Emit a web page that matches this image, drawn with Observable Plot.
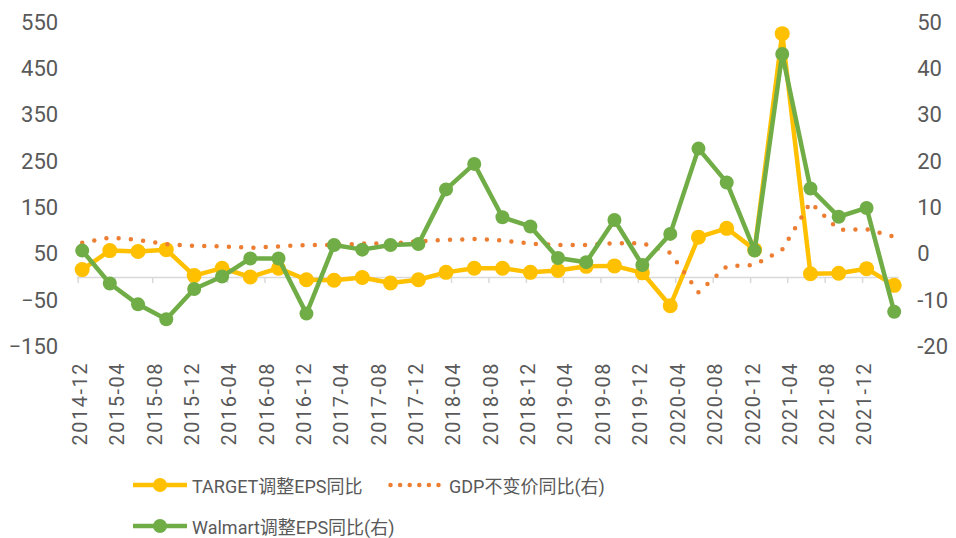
<!DOCTYPE html>
<html><head><meta charset="utf-8">
<script src="https://cdn.jsdelivr.net/npm/d3@7"></script>
<script src="https://cdn.jsdelivr.net/npm/@observablehq/plot@0.6"></script>
<style>
body{margin:0;background:#fff;font-family:Roboto,"Noto Sans CJK SC",sans-serif;}
#wrap{position:relative;width:956px;height:538px;overflow:hidden;}
.leg{position:absolute;display:flex;align-items:center;height:24px;font-size:18px;color:#595959;white-space:nowrap;font-family:Roboto,"Noto Sans CJK SC",sans-serif;}
.leg svg{margin-right:5px;}
#chart svg text[transform*="rotate(-90)"]{letter-spacing:1.5px;}
</style></head><body>
<div id="wrap"><div id="chart"></div>
<div class="leg" style="left:133px;top:473px"><svg width="54" height="24"><line x1="0" y1="12" x2="54" y2="12" stroke="#FFC000" stroke-width="4.5"/><circle cx="27" cy="12" r="7" fill="#FFC000"/></svg><span>TARGET调整EPS同比</span></div>
<div class="leg" style="left:388px;top:473px"><svg width="56" height="24"><line x1="2.5" y1="12" x2="52.5" y2="12" stroke="#ED7D31" stroke-width="4.5" stroke-linecap="round" stroke-dasharray="0 9.6"/></svg><span>GDP不变价同比(右)</span></div>
<div class="leg" style="left:133px;top:514px"><svg width="54" height="24"><line x1="0" y1="12" x2="54" y2="12" stroke="#70AD47" stroke-width="4.5"/><circle cx="27" cy="12" r="7" fill="#70AD47"/></svg><span>Walmart调整EPS同比(右)</span></div>
</div>
<script>
const quarters = ["2014-12","2015-03","2015-06","2015-09","2015-12","2016-03","2016-06","2016-09","2016-12","2017-03","2017-06","2017-09","2017-12","2018-03","2018-06","2018-09","2018-12","2019-03","2019-06","2019-09","2019-12","2020-03","2020-06","2020-09","2020-12","2021-03","2021-06","2021-09","2021-12","2022-03"];
const target = [17,58,56,60,4,20,1,20,-5,-6,0,-12,-5,11,20,20,11,15,24,25,10,-61,87,106,60,526,8,9,19,-17];
const walmart = [0.8,-6.3,-10.8,-14,-7.5,-4.8,-0.9,-0.9,-12.8,2.0,1.0,2.0,2.2,14.0,19.5,8.0,6.0,-0.8,-1.7,7.4,-2.3,4.4,22.8,15.5,0.8,43.2,14.2,8.1,10.0,-12.4];
const gdp = [2.5,3.6,3.1,2.2,1.8,1.7,1.4,1.7,2.0,2.0,2.3,2.3,2.8,3.1,3.3,3.0,2.3,2.0,2.0,2.4,2.4,0.3,-8.2,-2.6,-2.3,1.0,11.2,5.3,5.4,3.8];
const tickLabels = ["2014-12","2015-04","2015-08","2015-12","2016-04","2016-08","2016-12","2017-04","2017-08","2017-12","2018-04","2018-08","2018-12","2019-04","2019-08","2019-12","2020-04","2020-08","2020-12","2021-04","2021-08","2021-12"];
const leftTicks = [-150,-50,50,150,250,350,450,550];

const parse = s => { const [y,m] = s.split("-").map(Number); return new Date(Date.UTC(y, m-1, 1)); };
// right axis value r maps onto left axis value r*10+50
const toLeft = r => r*10 + 50;
const rows = quarters.map((q,i) => ({date: parse(q), target: target[i], walmart: toLeft(walmart[i]), gdp: toLeft(gdp[i])}));
const ticks = tickLabels.map(s => ({date: parse(s), label: s}));

const H = 460;
const chart = Plot.plot({
  width: 956, height: H,
  marginLeft: 81.7, marginRight: 62.3, marginTop: 22, marginBottom: H - 346.5,
  style: {fontFamily: "Roboto, 'Noto Sans CJK SC', sans-serif", fontSize: "22px", color: "#595959", background: "#fff", overflow: "visible"},
  x: {type: "utc", domain: [parse("2014-12"), parse("2022-03")], axis: null},
  y: {domain: [-150, 550], axis: null},
  marks: [
    Plot.ruleY([0], {stroke: "#D9D9D9", strokeWidth: 1.5, insetLeft: -5, insetRight: -5}),
    Plot.ruleX(ticks, {x: "date", y1: 0, y2: -13, stroke: "#D9D9D9", strokeWidth: 1.5, dx: -4}),
    Plot.axisY({anchor: "left", ticks: leftTicks, tickSize: 0, tickPadding: 24, fontSize: 22}),
    Plot.axisY({anchor: "right", ticks: leftTicks, tickFormat: d => String((d-50)/10), tickSize: 0, tickPadding: 23, fontSize: 22}),
    Plot.text(ticks, {x: "date", text: "label", frameAnchor: "bottom", dy: 15, dx: -1.5, rotate: -90, textAnchor: "end", lineAnchor: "middle", fontSize: 20, fill: "#595959"}),
    Plot.line(rows, {x: "date", y: "target", stroke: "#FFC000", strokeWidth: 4.5, strokeLinejoin: "round"}),
    Plot.dot(rows, {x: "date", y: "target", r: 7.5, fill: "#FFC000"}),
    Plot.line(rows, {x: "date", y: "gdp", stroke: "#ED7D31", strokeWidth: 4.5, strokeLinecap: "round", strokeDasharray: "0 12.3"}),
    Plot.line(rows, {x: "date", y: "walmart", stroke: "#70AD47", strokeWidth: 4.5, strokeLinejoin: "round"}),
    Plot.dot(rows, {x: "date", y: "walmart", r: 7, fill: "#70AD47"})
  ]
});
document.getElementById("chart").appendChild(chart);
</script>
</body></html>
